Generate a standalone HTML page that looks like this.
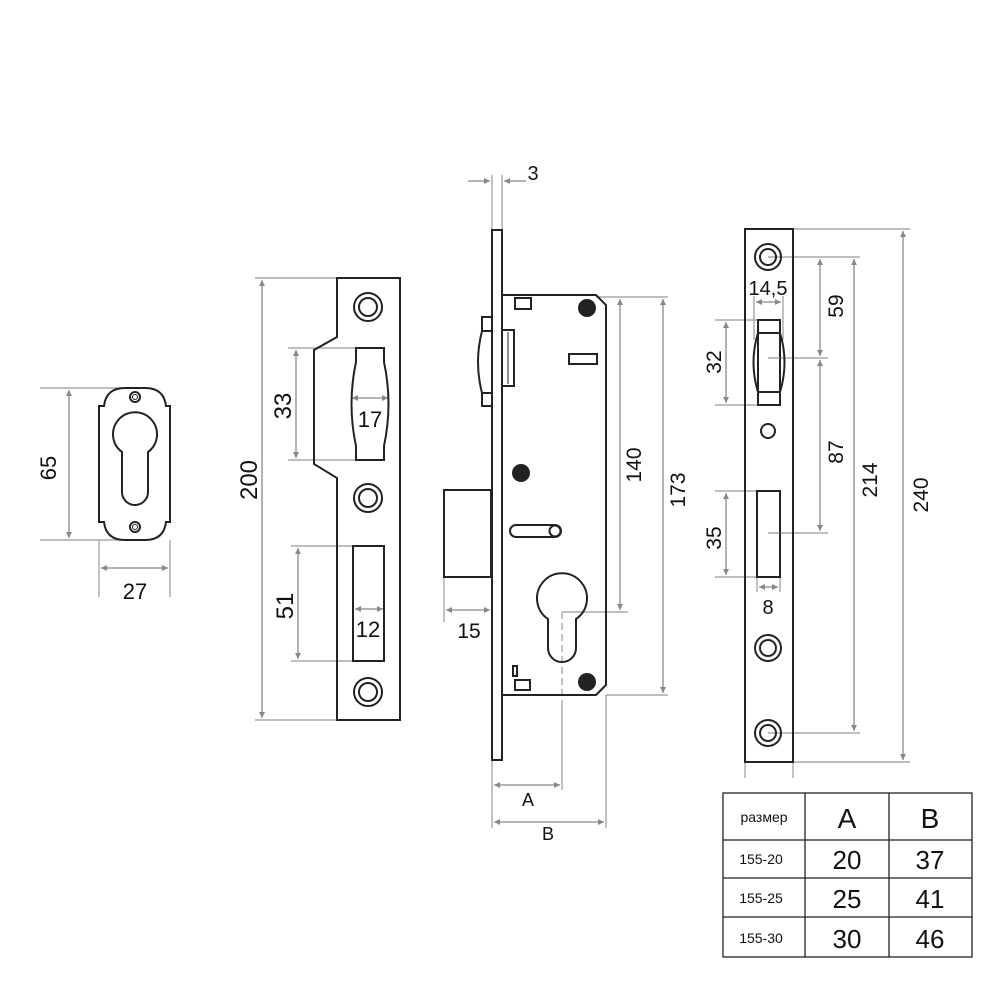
<!DOCTYPE html>
<html><head><meta charset="utf-8"><style>
html,body{margin:0;padding:0;background:#fff;}
svg{display:block;font-family:"Liberation Sans",sans-serif;}
</style></head><body>
<svg width="1000" height="1004" viewBox="0 0 1000 1004" xmlns="http://www.w3.org/2000/svg">
<defs>
<marker id="a" viewBox="0 0 10 10" refX="10" refY="5" markerWidth="10" markerHeight="6" orient="auto-start-reverse" markerUnits="userSpaceOnUse"><path d="M0,0 L10,5 L0,10z" fill="#888"/></marker>
</defs>
<g stroke="#999" stroke-width="1.2" fill="none">
<!-- escutcheon dims -->
<line x1="40" y1="388" x2="135" y2="388"/><line x1="40" y1="540" x2="135" y2="540"/>
<line x1="99" y1="540" x2="99" y2="597"/><line x1="170" y1="540" x2="170" y2="597"/>
</g>
<g stroke="#888" stroke-width="1.3" fill="none" marker-start="url(#a)" marker-end="url(#a)">
<line x1="69" y1="390" x2="69" y2="538"/>
<line x1="101" y1="568" x2="168" y2="568"/>
</g>
<g stroke="#222" stroke-width="2" fill="none">
<path d="M99,406 L104,406 Q106,388 125,388 L145,388 Q164,388 166,406 L170,406 L170,522 L166,522 Q164,540 145,540 L125,540 Q106,540 104,522 L99,522 Z"/>
<path d="M122,452 A22,22 0 1 1 148,452 L148,492 A13,13 0 0 1 122,492 Z"/>
<circle cx="135" cy="397" r="5"/><circle cx="135" cy="397" r="2.5" stroke-width="1"/>
<circle cx="135" cy="527" r="5"/><circle cx="135" cy="527" r="2.5" stroke-width="1"/>
</g>
<text x="56" y="468" font-size="22" text-anchor="middle" transform="rotate(-90 56 468)" fill="#111">65</text>
<text x="135" y="599" font-size="22" text-anchor="middle" fill="#111">27</text>

<!-- strike plate -->
<g stroke="#999" stroke-width="1.2" fill="none">
<line x1="255" y1="278" x2="337" y2="278"/><line x1="255" y1="720" x2="337" y2="720"/>
<line x1="288" y1="348" x2="355" y2="348"/><line x1="288" y1="460" x2="355" y2="460"/>
<line x1="291" y1="546" x2="353" y2="546"/><line x1="291" y1="661" x2="353" y2="661"/>
</g>
<g stroke="#888" stroke-width="1.3" fill="none" marker-start="url(#a)" marker-end="url(#a)">
<line x1="262" y1="280" x2="262" y2="718"/>
<line x1="296" y1="350" x2="296" y2="458"/>
<line x1="298" y1="548" x2="298" y2="659"/>
<line x1="352" y1="398" x2="388" y2="398"/>
<line x1="355" y1="609" x2="383" y2="609"/>
</g>
<g stroke="#222" stroke-width="2" fill="none">
<path d="M337,278 L400,278 L400,720 L337,720 L337,478 L314,464 L314,350 L337,337 Z"/>
<path d="M356,348 L384,348 L384,362 Q393,404 384,446 L384,460 L356,460 L356,446 Q347,404 356,362 Z"/>
<rect x="353" y="546" width="31" height="115"/>
<circle cx="368" cy="307" r="14"/><circle cx="368" cy="307" r="9"/>
<circle cx="368" cy="498" r="14"/><circle cx="368" cy="498" r="9"/>
<circle cx="368" cy="692" r="14"/><circle cx="368" cy="692" r="9"/>
</g>
<text x="257" y="480" font-size="24" text-anchor="middle" transform="rotate(-90 257 480)" fill="#111">200</text>
<text x="291" y="406" font-size="24" text-anchor="middle" transform="rotate(-90 291 406)" fill="#111">33</text>
<text x="293" y="606" font-size="24" text-anchor="middle" transform="rotate(-90 293 606)" fill="#111">51</text>
<text x="370" y="427" font-size="22" text-anchor="middle" fill="#111">17</text>
<text x="368" y="637" font-size="22" text-anchor="middle" fill="#111">12</text>

<!-- lock body -->
<g stroke="#999" stroke-width="1.2" fill="none">
<line x1="492" y1="175" x2="492" y2="230"/><line x1="502" y1="175" x2="502" y2="230"/>
<line x1="444" y1="577" x2="444" y2="622"/>
<line x1="596" y1="297" x2="668" y2="297"/><line x1="606" y1="695" x2="668" y2="695"/>
<line x1="562" y1="612" x2="628" y2="612"/>
<line x1="492" y1="760" x2="492" y2="828"/><line x1="606" y1="695" x2="606" y2="828"/>
<line x1="562" y1="700" x2="562" y2="790"/>
<line x1="562" y1="612" x2="562" y2="700" stroke-dasharray="7,4"/>
</g>
<g stroke="#888" stroke-width="1.3" fill="none">
<line x1="468" y1="181" x2="490" y2="181" marker-end="url(#a)"/>
<line x1="526" y1="181" x2="504" y2="181" marker-end="url(#a)"/>
<line x1="446" y1="610" x2="490" y2="610" marker-start="url(#a)" marker-end="url(#a)"/>
<line x1="620" y1="299" x2="620" y2="610" marker-start="url(#a)" marker-end="url(#a)"/>
<line x1="663" y1="299" x2="663" y2="693" marker-start="url(#a)" marker-end="url(#a)"/>
<line x1="494" y1="785" x2="560" y2="785" marker-start="url(#a)" marker-end="url(#a)"/>
<line x1="494" y1="822" x2="604" y2="822" marker-start="url(#a)" marker-end="url(#a)"/>
</g>
<g stroke="#222" stroke-width="2" fill="none">
<rect x="492" y="230" width="10" height="530"/>
<path d="M502,295 L596,295 L606,305 L606,685 L596,695 L502,695"/>
<rect x="444" y="490" width="47" height="87"/>
<rect x="482" y="317" width="10" height="14"/><rect x="482" y="393" width="10" height="13"/>
<path d="M482,331 Q474,362 482,393"/>
<rect x="502" y="330" width="12" height="56"/><line x1="508" y1="332" x2="508" y2="384" stroke-width="1"/>
<rect x="515" y="298" width="16" height="11"/>
<rect x="569" y="354" width="28" height="10"/>
<path d="M516,525 L555,525 A6,6 0 0 1 555,537 L516,537 A6,6 0 0 1 516,525 Z"/>
<circle cx="555" cy="531" r="5.5"/>
<path d="M548,619 A25,25 0 1 1 576,619 L576,648 A14,14 0 0 1 548,648 Z"/>
<rect x="513" y="666" width="4" height="10"/><rect x="515" y="680" width="15" height="10"/>
</g>
<g fill="#222"><circle cx="587" cy="308" r="9"/><circle cx="521" cy="473" r="9"/><circle cx="587" cy="682" r="9"/></g>
<text x="533" y="180" font-size="20" text-anchor="middle" fill="#111">3</text>
<text x="469" y="638" font-size="21" text-anchor="middle" fill="#111">15</text>
<text x="641" y="465" font-size="21" text-anchor="middle" transform="rotate(-90 641 465)" fill="#111">140</text>
<text x="685" y="490" font-size="21" text-anchor="middle" transform="rotate(-90 685 490)" fill="#111">173</text>
<text x="528" y="806" font-size="18" text-anchor="middle" fill="#111">A</text>
<text x="548" y="840" font-size="18" text-anchor="middle" fill="#111">B</text>

<!-- right faceplate -->
<g stroke="#999" stroke-width="1.2" fill="none">
<line x1="793" y1="229" x2="910" y2="229"/><line x1="793" y1="762" x2="910" y2="762"/>
<line x1="768" y1="257" x2="860" y2="257"/><line x1="768" y1="733" x2="860" y2="733"/>
<line x1="768" y1="358" x2="828" y2="358"/><line x1="768" y1="533" x2="828" y2="533"/>
<line x1="715" y1="320" x2="758" y2="320"/><line x1="715" y1="405" x2="758" y2="405"/>
<line x1="715" y1="491" x2="757" y2="491"/><line x1="715" y1="577" x2="757" y2="577"/>
<line x1="745" y1="762" x2="745" y2="778"/><line x1="793" y1="762" x2="793" y2="778"/>
<line x1="754" y1="296" x2="754" y2="340"/><line x1="783" y1="296" x2="783" y2="340"/>
<line x1="757" y1="577" x2="757" y2="592"/><line x1="780" y1="577" x2="780" y2="592"/>
</g>
<g stroke="#888" stroke-width="1.3" fill="none" marker-start="url(#a)" marker-end="url(#a)">
<line x1="903" y1="231" x2="903" y2="760"/>
<line x1="854" y1="259" x2="854" y2="731"/>
<line x1="820" y1="259" x2="820" y2="356"/>
<line x1="820" y1="360" x2="820" y2="531"/>
<line x1="726" y1="322" x2="726" y2="403"/>
<line x1="726" y1="493" x2="726" y2="575"/>
<line x1="756" y1="302" x2="781" y2="302"/>
<line x1="759" y1="587" x2="778" y2="587"/>
</g>
<g stroke="#222" stroke-width="2" fill="none">
<rect x="745" y="229" width="48" height="533"/>
<circle cx="768" cy="257" r="13"/><circle cx="768" cy="257" r="8"/>
<circle cx="768" cy="648" r="13"/><circle cx="768" cy="648" r="8"/>
<circle cx="768" cy="733" r="13"/><circle cx="768" cy="733" r="8"/>
<circle cx="768" cy="431" r="7"/>
<rect x="758" y="320" width="22" height="85"/>
<path d="M758,333 L780,333 Q789,362 780,392 L758,392 Q749,362 758,333"/>
<rect x="757" y="491" width="23" height="86"/>
</g>
<g stroke="#999" stroke-width="1" fill="none"><line x1="768" y1="358" x2="780" y2="358"/><line x1="768" y1="533" x2="780" y2="533"/></g>
<text x="768" y="295" font-size="20" text-anchor="middle" fill="#111">14,5</text>
<text x="768" y="614" font-size="20" text-anchor="middle" fill="#111">8</text>
<text x="721" y="362" font-size="21" text-anchor="middle" transform="rotate(-90 721 362)" fill="#111">32</text>
<text x="721" y="538" font-size="21" text-anchor="middle" transform="rotate(-90 721 538)" fill="#111">35</text>
<text x="843" y="306" font-size="21" text-anchor="middle" transform="rotate(-90 843 306)" fill="#111">59</text>
<text x="843" y="452" font-size="21" text-anchor="middle" transform="rotate(-90 843 452)" fill="#111">87</text>
<text x="877" y="480" font-size="21" text-anchor="middle" transform="rotate(-90 877 480)" fill="#111">214</text>
<text x="928" y="495" font-size="21" text-anchor="middle" transform="rotate(-90 928 495)" fill="#111">240</text>

<!-- table -->
<g stroke="#222" stroke-width="1.3" fill="none">
<rect x="723" y="793" width="249" height="164"/>
<line x1="805" y1="793" x2="805" y2="957"/><line x1="889" y1="793" x2="889" y2="957"/>
<line x1="723" y1="840" x2="972" y2="840"/><line x1="723" y1="878" x2="972" y2="878"/><line x1="723" y1="917" x2="972" y2="917"/>
</g>
<g fill="#111" text-anchor="middle">
<text x="764" y="822" font-size="14">размер</text>
<text x="847" y="828" font-size="28">A</text><text x="930" y="828" font-size="28">B</text>
<text x="761" y="864" font-size="14">155-20</text><text x="847" y="869" font-size="26">20</text><text x="930" y="869" font-size="26">37</text>
<text x="761" y="903" font-size="14">155-25</text><text x="847" y="908" font-size="26">25</text><text x="930" y="908" font-size="26">41</text>
<text x="761" y="943" font-size="14">155-30</text><text x="847" y="948" font-size="26">30</text><text x="930" y="948" font-size="26">46</text>
</g>
</svg>
</body></html>
